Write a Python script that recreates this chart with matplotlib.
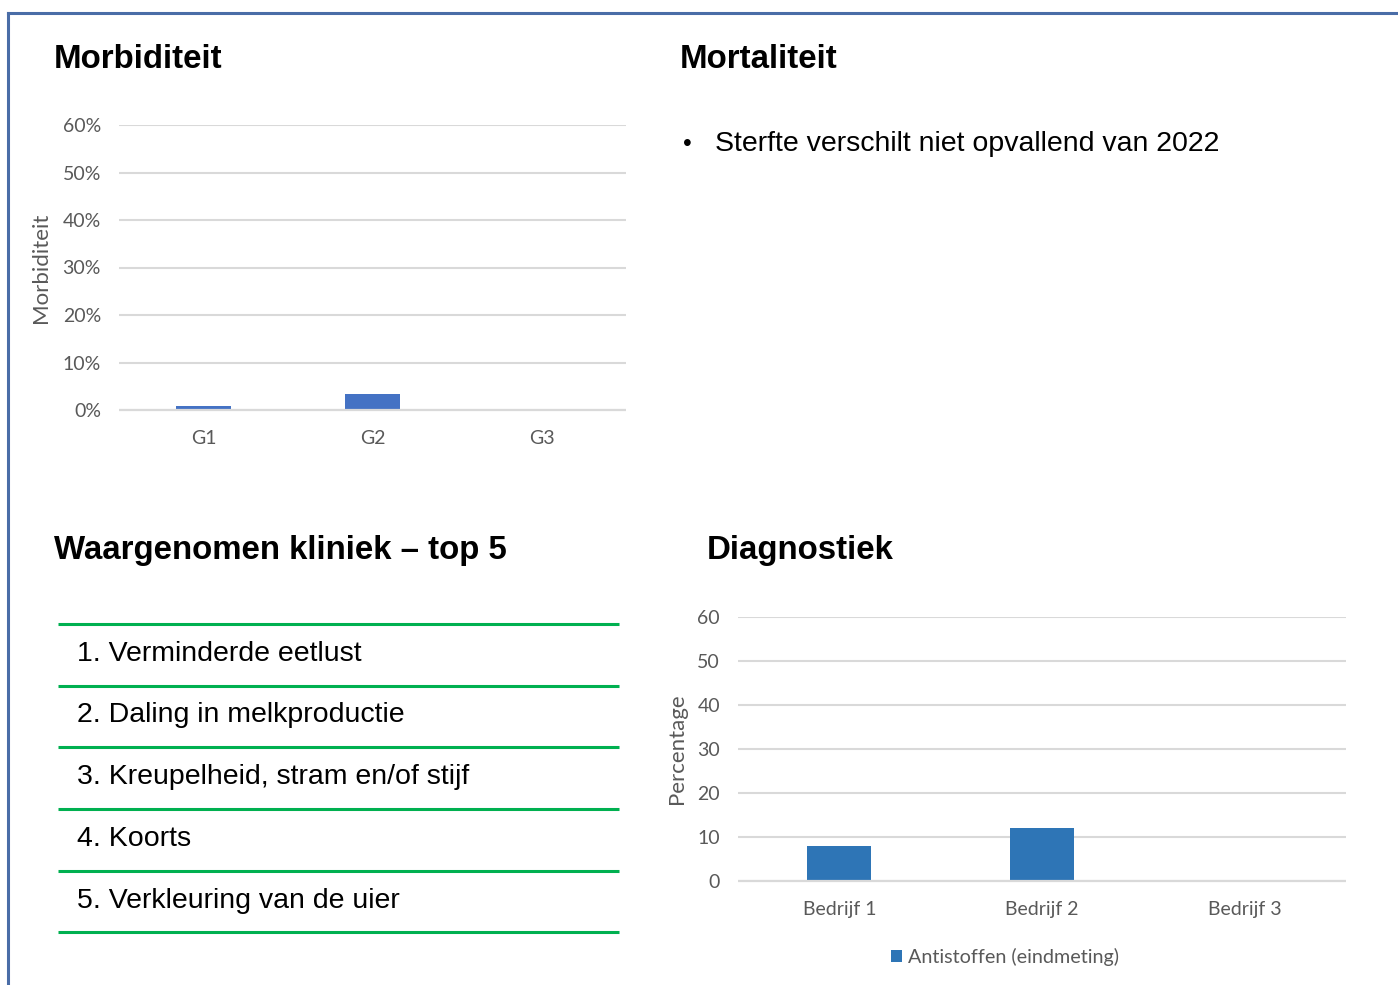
import matplotlib
matplotlib.use("Agg")
import matplotlib.pyplot as plt
from matplotlib.ticker import PercentFormatter
from matplotlib.lines import Line2D
from matplotlib.patches import Patch

# ---- data ----
morb_categories = ["G1", "G2", "G3"]
morb_values = [0.008, 0.034, 0.0]
morb_yticks = [0.0, 0.1, 0.2, 0.3, 0.4, 0.5, 0.6]

diag_categories = ["Bedrijf 1", "Bedrijf 2", "Bedrijf 3"]
diag_values = [8, 12, 0]
diag_yticks = [0, 10, 20, 30, 40, 50, 60]
diag_series = "Antistoffen (eindmeting)"

mortality_text = "Sterfte verschilt niet opvallend van 2022"
clinic_items = [
    "1. Verminderde eetlust",
    "2. Daling in melkproductie",
    "3. Kreupelheid, stram en/of stijf",
    "4. Koorts",
    "5. Verkleuring van de uier",
]

W, H = 1398, 985
fig = plt.figure(figsize=(W / 100, H / 100), dpi=100)
fig.patch.set_facecolor("white")

def fx(x):
    return x / W

def fy(y):
    return 1 - y / H

TITLE_FONT = ["Liberation Sans", "DejaVu Sans"]
BODY_FONT = ["Liberation Sans", "DejaVu Sans"]
CHART_FONT = ["Lato", "DejaVu Sans"]
GRAY = "#595959"
GRID = "#D9D9D9"

# ---- border ----
border = "#4A6DA7"
fig.add_artist(Line2D([fx(8), fx(8)], [fy(13), fy(985)], color=border, lw=2.2,
                      transform=fig.transFigure))
fig.add_artist(Line2D([fx(8), fx(1398)], [fy(13), fy(13)], color=border, lw=2.2,
                      transform=fig.transFigure))

# ---- titles ----
for txt, x, y in [("Morbiditeit", 54, 60), ("Mortaliteit", 680, 60),
                  ("Waargenomen kliniek \u2013 top 5", 54, 551), ("Diagnostiek", 707, 551)]:
    fig.text(fx(x), fy(y), txt, fontsize=23.8, fontweight="bold", family=TITLE_FONT,
             ha="left", va="center", color="black")

# ---- mortality bullet ----
fig.text(fx(683), fy(144), "\u2022", fontsize=18, family=BODY_FONT, ha="left", va="center")
fig.text(fx(715), fy(144), mortality_text, fontsize=20.5, family=BODY_FONT,
         ha="left", va="center", color="black")

# ---- clinic list ----
line_ys = [624, 686, 747, 809, 871, 932]
green = "#00B050"
for ly in line_ys:
    fig.add_artist(Line2D([fx(58), fx(619)], [fy(ly), fy(ly)], color=green, lw=2.2,
                          solid_capstyle="butt", transform=fig.transFigure))
for i, item in enumerate(clinic_items):
    yc = (line_ys[i] + line_ys[i + 1]) / 2 - 1
    fig.text(fx(77), fy(yc), item, fontsize=20.5, family=BODY_FONT,
             ha="left", va="center", color="black")

def style_axis(ax):
    for s in ["top", "right", "left"]:
        ax.spines[s].set_visible(False)
    ax.spines["bottom"].set_color(GRID)
    ax.spines["bottom"].set_linewidth(1.6)
    ax.spines["bottom"].set_capstyle("butt")
    ax.grid(axis="y", color=GRID, lw=1.5)
    ax.set_axisbelow(True)
    ax.tick_params(axis="both", length=0, labelcolor=GRAY, labelsize=14)
    ax.tick_params(axis="y", pad=13)
    ax.tick_params(axis="x", pad=14.5)
    for lab in ax.get_xticklabels() + ax.get_yticklabels():
        lab.set_family(CHART_FONT)

# ---- morbidity chart ----
ax1 = fig.add_axes([fx(119), fy(410), fx(626) - fx(119), fy(125) - fy(410)])
ax1.bar(range(len(morb_categories)), morb_values, width=0.32, color="#4472C4")
ax1.set_xlim(-0.5, len(morb_categories) - 0.5)
ax1.set_ylim(0, 0.6)
ax1.set_yticks(morb_yticks)
ax1.yaxis.set_major_formatter(PercentFormatter(1.0, decimals=0))
ax1.set_xticks(range(len(morb_categories)))
ax1.set_xticklabels(morb_categories)
style_axis(ax1)
fig.text(fx(41), fy(268), "Morbiditeit", rotation=90, ha="center", va="center",
         fontsize=16, color=GRAY, family=CHART_FONT)

# ---- diagnostics chart ----
ax2 = fig.add_axes([fx(738), fy(881), fx(1346) - fx(738), fy(617) - fy(881)])
ax2.bar(range(len(diag_categories)), diag_values, width=0.315, color="#2E75B6")
ax2.set_xlim(-0.5, len(diag_categories) - 0.5)
ax2.set_ylim(0, 60)
ax2.set_yticks(diag_yticks)
ax2.set_xticks(range(len(diag_categories)))
ax2.set_xticklabels(diag_categories)
style_axis(ax2)
fig.text(fx(677), fy(749), "Percentage", rotation=90, ha="center", va="center",
         fontsize=16, color=GRAY, family=CHART_FONT)
fig.legend(handles=[Patch(facecolor="#2E75B6", label=diag_series)],
           loc="center", bbox_to_anchor=(fx(1005), fy(957)), frameon=False,
           handlelength=0.6, handleheight=0.6, handletextpad=0.3,
           prop={"family": CHART_FONT, "size": 14.2}, labelcolor=GRAY)

fig.savefig("out.png", dpi=100, facecolor="white")
